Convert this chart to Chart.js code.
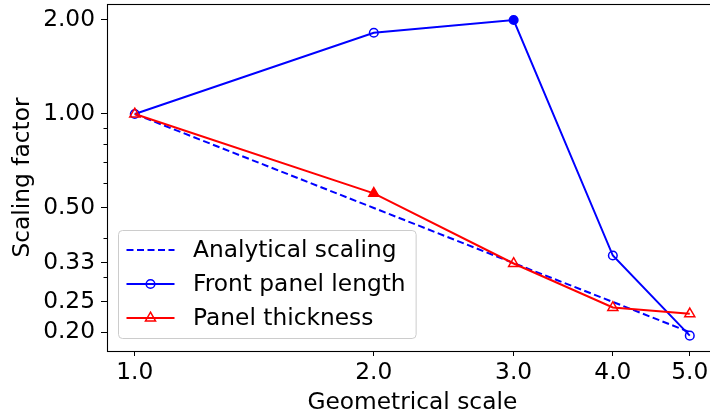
<!DOCTYPE html>
<html>
<head>
<meta charset="utf-8">
<title>Scaling factor vs geometrical scale</title>
<script src="https://cdn.jsdelivr.net/npm/chart.js@4"></script>
<style>
  html, body {
    margin: 0;
    padding: 0;
    background: #fff;
    overflow: hidden;
  }
  #scaleChart {
    display: block;
    width: 720px;
    height: 418px;
  }
</style>
</head>
<body>
<canvas id="scaleChart" width="720" height="418"></canvas>

<script>
// geometrical scale of each model
const scales = [1.0, 2.0, 3.0, 4.0, 5.0];

// scaling factors
const analytical = [1.0, 0.5, 0.333, 0.25, 0.2];
const frontPanelLength = [1.0, 1.82, 2.0, 0.352, 0.195];
const panelThickness = [1.0, 0.557, 0.332, 0.240, 0.229];

// which points are highlighted (filled marker)
const frontPanelFilled = [false, false, true, false, false];
const thicknessFilled = [false, true, false, false, false];

// axis ticks
const xTicks = [1.0, 2.0, 3.0, 4.0, 5.0];
const xTickLabels = ['1.0', '2.0', '3.0', '4.0', '5.0'];
const yTicks = [0.2, 0.25, 0.3333, 0.5, 1.0, 2.0];
const yTickLabels = ['0.20', '0.25', '0.33', '0.50', '1.00', '2.00'];
const yMinorTicks = [0.3, 0.4, 0.6, 0.7, 0.8, 0.9];

const FONT = '"DejaVu Sans", sans-serif';
const FS = 23.3;
const BLUE = '#0000ff';
const RED = '#ff0000';
const NONE = 'rgba(0,0,0,0)';

const toPoints = ys => scales.map((x, i) => ({ x: x, y: ys[i] }));

// no extra room around the axes for the outer tick labels
const noScalePad = s => {
  s.paddingTop = 0;
  s.paddingBottom = 0;
  s.paddingLeft = 0;
  s.paddingRight = 0;
};

// short minor ticks on the y axis + box around the axes
const framePlugin = {
  id: 'frame',
  afterDatasetsDraw(chart) {
    const { ctx, chartArea } = chart;
    const y = chart.scales.y;
    ctx.save();
    ctx.strokeStyle = '#000';
    ctx.lineWidth = 1;
    yMinorTicks.forEach(v => {
      const py = Math.round(y.getPixelForValue(v)) + 0.5;
      ctx.beginPath();
      ctx.moveTo(chartArea.left - 3.5, py);
      ctx.lineTo(chartArea.left, py);
      ctx.stroke();
    });
    ctx.lineWidth = 1.1;
    ctx.strokeRect(Math.round(chartArea.left) + 0.5, Math.round(chartArea.top) + 0.5,
      chartArea.right - chartArea.left, Math.round(chartArea.bottom - chartArea.top));
    ctx.restore();
  }
};

function drawMarker(ctx, style, x, y, r, color, fill) {
  ctx.beginPath();
  if (style === 'circle') {
    ctx.arc(x, y, r, 0, Math.PI * 2);
  } else if (style === 'triangle') {
    ctx.moveTo(x, y - r);
    ctx.lineTo(x + r * 0.866, y + r / 2);
    ctx.lineTo(x - r * 0.866, y + r / 2);
    ctx.closePath();
  }
  ctx.fillStyle = fill;
  ctx.fill();
  ctx.strokeStyle = color;
  ctx.lineWidth = 1.5;
  ctx.stroke();
}

// legend box in the lower left corner of the axes
const boxLegend = {
  id: 'boxLegend',
  afterDraw(chart) {
    const { ctx, chartArea } = chart;
    const sets = chart.data.datasets;
    ctx.save();
    ctx.font = FS + 'px ' + FONT;
    const textW = Math.max(...sets.map(d => ctx.measureText(d.label).width));
    const rowH = 34;
    const h = rowH * sets.length + 6;
    const left = chartArea.left + 11;
    const bottom = chartArea.bottom - 13;
    const top = bottom - h;
    const w = 75 + textW + 10;

    ctx.beginPath();
    ctx.roundRect(left + 0.5, top + 0.5, w, h, 4);
    ctx.fillStyle = 'rgba(255,255,255,0.8)';
    ctx.fill();
    ctx.strokeStyle = '#cccccc';
    ctx.lineWidth = 1;
    ctx.stroke();

    sets.forEach((d, i) => {
      const cy = top + 20 + i * rowH;
      ctx.beginPath();
      ctx.setLineDash(d.borderDash || []);
      ctx.strokeStyle = d.borderColor;
      ctx.lineWidth = d.borderWidth;
      ctx.moveTo(left + 8.5, cy);
      ctx.lineTo(left + 56.5, cy);
      ctx.stroke();
      ctx.setLineDash([]);
      if (d.pointRadius > 0) {
        drawMarker(ctx, d.pointStyle, left + 32.5, cy, d.pointRadius, d.borderColor, NONE);
      }
      ctx.fillStyle = '#000';
      ctx.textBaseline = 'middle';
      ctx.textAlign = 'left';
      ctx.fillText(d.label, left + 75, cy + 1);
    });
    ctx.restore();
  }
};

new Chart(document.getElementById('scaleChart'), {
  type: 'line',
  data: {
    datasets: [
      {
        label: 'Analytical scaling',
        data: toPoints(analytical),
        borderColor: BLUE,
        borderWidth: 2,
        borderDash: [7, 3.5],
        pointRadius: 0,
        order: 3
      },
      {
        label: 'Front panel length',
        data: toPoints(frontPanelLength),
        borderColor: BLUE,
        borderWidth: 2,
        pointStyle: 'circle',
        pointRadius: 4.3,
        pointBorderWidth: 1.5,
        pointBorderColor: BLUE,
        pointBackgroundColor: frontPanelFilled.map(f => f ? BLUE : NONE),
        order: 2
      },
      {
        label: 'Panel thickness',
        data: toPoints(panelThickness),
        borderColor: RED,
        borderWidth: 2,
        pointStyle: 'triangle',
        pointRadius: 5.8,
        pointBorderWidth: 1.5,
        pointBorderColor: RED,
        pointBackgroundColor: thicknessFilled.map(f => f ? RED : NONE),
        order: 1
      }
    ]
  },
  options: {
    responsive: false,
    animation: false,
    devicePixelRatio: 1,
    layout: { autoPadding: false, padding: { top: 4, right: 2.4, bottom: 0, left: 0 } },
    elements: { line: { tension: 0 } },
    plugins: {
      legend: { display: false },
      tooltip: { enabled: false }
    },
    scales: {
      x: {
        type: 'logarithmic',
        min: 0.9226,
        max: 5.42,
        afterFit: s => { s.height = 67; noScalePad(s); },
        afterBuildTicks: s => { s.ticks = xTicks.map(v => ({ value: v })); },
        border: { display: false },
        grid: { drawOnChartArea: false, tickLength: 5, tickColor: '#000', tickWidth: 1 },
        ticks: {
          autoSkip: false,
          maxRotation: 0,
          padding: 3,
          color: '#000',
          font: { family: FONT, size: FS },
          callback: (v, i) => xTickLabels[i]
        },
        title: {
          display: true,
          text: 'Geometrical scale',
          color: '#000',
          font: { family: FONT, size: FS },
          padding: { top: 0, bottom: 1.5 }
        }
      },
      y: {
        type: 'logarithmic',
        min: 0.1741,
        max: 2.2504,
        afterFit: s => { s.width = 107; noScalePad(s); },
        afterBuildTicks: s => { s.ticks = yTicks.map(v => ({ value: v })); },
        border: { display: false },
        grid: { drawOnChartArea: false, tickLength: 6, tickColor: '#000', tickWidth: 1 },
        ticks: {
          autoSkip: false,
          padding: 6,
          color: '#000',
          font: { family: FONT, size: FS },
          callback: (v, i) => yTickLabels[i]
        },
        title: {
          display: true,
          text: 'Scaling factor',
          color: '#000',
          font: { family: FONT, size: FS },
          padding: { top: 9, bottom: 0 }
        }
      }
    }
  },
  plugins: [framePlugin, boxLegend]
});
</script>
</body>
</html>
